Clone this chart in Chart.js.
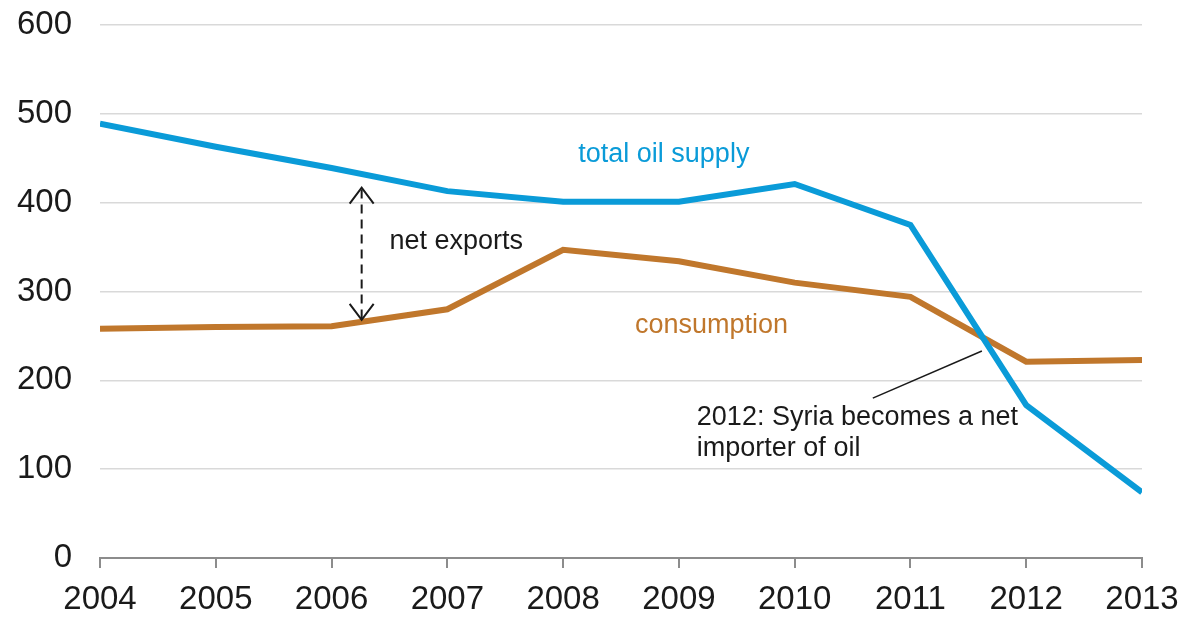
<!DOCTYPE html>
<html>
<head>
<meta charset="utf-8">
<script src="https://cdn.jsdelivr.net/npm/chart.js@4"></script>
<style>
  html, body { margin: 0; padding: 0; background: #fff; }
  #wrap { width: 1183px; height: 618px; position: relative; }
</style>
</head>
<body>
<div id="wrap"><canvas id="chart"></canvas></div>
<script>
// years on the x axis
const years = [2004, 2005, 2006, 2007, 2008, 2009, 2010, 2011, 2012, 2013];
// total oil supply (kb/d)
const supply = [489, 463, 439, 413, 401, 401, 421, 375, 172, 74];
// consumption (kb/d)
const consumption = [258, 260, 261, 280, 347, 334, 310, 294, 221, 223];
const yTicks = [0, 100, 200, 300, 400, 500, 600];

const blue = '#0a9bd8';
const orange = '#c0772c';
const font = "'Liberation Sans', Arial, sans-serif";

// labels and arrows drawn on top of the lines
const notes = {
  id: 'notes',
  afterDatasetsDraw(chart) {
    const ctx = chart.ctx;
    const x = chart.scales.x, y = chart.scales.y;
    ctx.save();
    ctx.font = '27px ' + font;
    ctx.textBaseline = 'middle';

    ctx.fillStyle = blue;
    ctx.textAlign = 'center';
    ctx.fillText('total oil supply', x.getPixelForValue(2008.87), y.getPixelForValue(454));

    ctx.fillStyle = '#1a1a1a';
    ctx.textAlign = 'left';
    ctx.fillText('net exports', x.getPixelForValue(2006.5), y.getPixelForValue(356));

    ctx.fillStyle = orange;
    ctx.fillText('consumption', x.getPixelForValue(2008.62), y.getPixelForValue(262));

    ctx.fillStyle = '#1a1a1a';
    ctx.fillText('2012: Syria becomes a net', x.getPixelForValue(2009.155), y.getPixelForValue(158));
    ctx.fillText('importer of oil', x.getPixelForValue(2009.155), y.getPixelForValue(123));

    // pointer to the crossing
    ctx.strokeStyle = '#1a1a1a';
    ctx.lineWidth = 1.5;
    ctx.beginPath();
    ctx.moveTo(x.getPixelForValue(2010.675), y.getPixelForValue(180));
    ctx.lineTo(x.getPixelForValue(2011.617), y.getPixelForValue(233));
    ctx.stroke();

    // dashed double arrow for net exports
    const ax = x.getPixelForValue(2006.26);
    const top = y.getPixelForValue(417), bot = y.getPixelForValue(268);
    ctx.lineWidth = 2;
    ctx.setLineDash([9, 6]);
    ctx.beginPath();
    ctx.moveTo(ax, top + 2);
    ctx.lineTo(ax, bot - 2);
    ctx.stroke();
    ctx.setLineDash([]);
    ctx.beginPath();
    ctx.moveTo(ax - 12, top + 16); ctx.lineTo(ax, top); ctx.lineTo(ax + 12, top + 16);
    ctx.moveTo(ax - 12, bot - 16); ctx.lineTo(ax, bot); ctx.lineTo(ax + 12, bot - 16);
    ctx.stroke();
    ctx.restore();
  }
};

new Chart(document.getElementById('chart'), {
  type: 'line',
  data: {
    datasets: [
      {
        label: 'total oil supply',
        data: years.map((yr, i) => ({ x: yr, y: supply[i] })),
        borderColor: blue,
        borderWidth: 6,
        pointRadius: 0,
        tension: 0
      },
      {
        label: 'consumption',
        data: years.map((yr, i) => ({ x: yr, y: consumption[i] })),
        borderColor: orange,
        borderWidth: 6,
        pointRadius: 0,
        tension: 0
      }
    ]
  },
  options: {
    responsive: true,
    maintainAspectRatio: false,
    animation: false,
    layout: { padding: { top: 25, right: 41, left: 0, bottom: 0 } },
    plugins: { legend: { display: false }, tooltip: { enabled: false } },
    scales: {
      x: {
        type: 'linear',
        min: 2004,
        max: 2013,
        afterBuildTicks: s => { s.ticks = years.map(v => ({ value: v })); },
        afterFit: s => { s.height = 60; s.paddingLeft = 0; s.paddingRight = 0; },
        ticks: {
          callback: v => String(v),
          color: '#1a1a1a',
          font: { family: font, size: 33 },
          padding: 12,
          maxRotation: 0
        },
        grid: { drawOnChartArea: false, drawTicks: true, tickLength: 10, color: '#8c8c8c', lineWidth: 2 },
        border: { color: '#8c8c8c', width: 2 }
      },
      y: {
        min: 0,
        max: 600,
        afterBuildTicks: s => { s.ticks = yTicks.map(v => ({ value: v })); },
        afterFit: s => { s.width = 100; s.paddingTop = 0; s.paddingBottom = 0; },
        ticks: {
          color: '#1a1a1a',
          font: { family: font, size: 33 },
          padding: 28
        },
        grid: { color: '#d9d9d9', lineWidth: 1.5, drawTicks: false },
        border: { display: false }
      }
    }
  },
  plugins: [notes]
});
</script>
</body>
</html>
